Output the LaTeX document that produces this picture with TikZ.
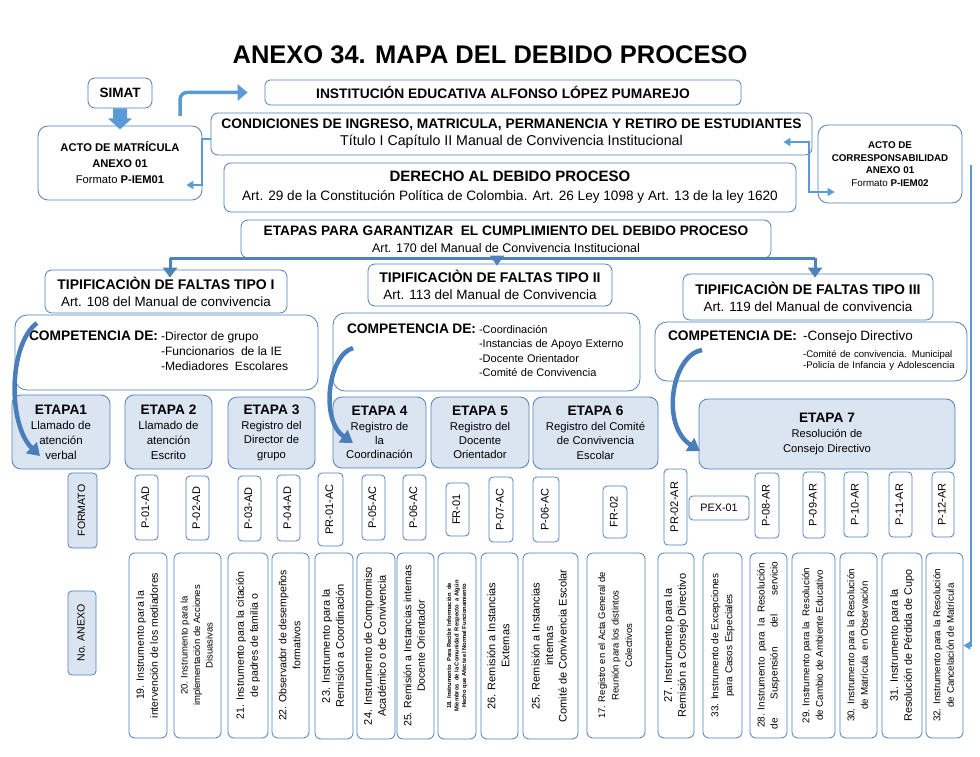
\documentclass[tikz,border=0pt]{standalone}
\usepackage{fontspec}
\usepackage{array}
\setmainfont{Liberation Sans}
\usetikzlibrary{arrows.meta,backgrounds}
\definecolor{bdr}{RGB}{79,129,189}
\definecolor{efill}{RGB}{219,229,241}
\definecolor{linec}{RGB}{108,160,220}
\definecolor{thinc}{RGB}{141,180,226}
\definecolor{bigc}{RGB}{74,126,187}
\definecolor{blockc}{RGB}{91,155,213}
\newcommand\fs[2]{\fontsize{#1}{#2}\selectfont}
\newcommand\rt[3]{\rotatebox{90}{\fs{#1}{#2}\begin{tabular}{@{}c@{}}#3\end{tabular}}}
\newcommand\bx[7]{\node[#6,minimum width={(#4-#2)*1pt},minimum height={(#5-#3)*1pt}] (#1) at ({(#2+#4)/2},{(#3+#5)/2}) {#7};}
\tikzset{
  bxs/.style={draw=bdr,line width=0.8pt,rounded corners=7pt,fill=white,inner sep=0pt,align=center,text=black},
  ebs/.style={bxs,fill=efill,rounded corners=9pt},
  fbs/.style={bxs,rounded corners=4pt},
  els/.style={linec,line width=3pt},
  fls/.style={linec,line width=3pt},
  cls/.style={thinc,line width=1.2pt},
  tls/.style={blockc,line width=2pt},
  dls/.style={bdr,line width=3pt},
  bigs/.style={bigc,line width=4.5pt,-{Triangle[width=15pt,length=12pt]}},
}
\begin{document}
\begin{tikzpicture}[x=1pt,y=-1pt]
\useasboundingbox (0,0) rectangle (980,757);
\fill[white] (0,0) rectangle (980,757);

\node[font=\fs{25.5}{30}\bfseries] (title) at (490,55) {ANEXO 34. MAPA DEL DEBIDO PROCESO};

\bx{simat}{88}{78}{152}{108}{bxs,font=\fs{13.5}{16}\bfseries}{SIMAT}
\bx{acto}{38}{126}{202}{200}{bxs,rounded corners=10pt,font=\fs{11.2}{16}}{\bfseries ACTO DE MATRÍCULA\\\bfseries ANEXO 01\\Formato \textbf{P-IEM01}}
\bx{inst}{265}{80}{741}{105}{bxs,rounded corners=5pt,font=\fs{13.8}{16}\bfseries}{INSTITUCIÓN EDUCATIVA ALFONSO LÓPEZ PUMAREJO}
\bx{cond}{211}{113}{812}{155}{bxs,font=\fs{13.8}{17}}{\bfseries CONDICIONES DE INGRESO, MATRICULA, PERMANENCIA Y RETIRO DE ESTUDIANTES\\\fs{14.2}{17}Título I Capítulo II Manual de Convivencia Institucional}
\bx{corr}{818}{125}{962}{203}{bxs,rounded corners=10pt,font=\fs{9.8}{12.7}}{\bfseries ACTO DE\\\bfseries CORRESPONSABILIDAD\\\bfseries ANEXO 01\\Formato \textbf{P-IEM02}}
\bx{der}{224}{163}{796}{212}{bxs,font=\fs{13.6}{19}}{\fs{15}{19}\bfseries DERECHO AL DEBIDO PROCESO\\Art. 29 de la Constitución Política de Colombia. Art. 26 Ley 1098 y Art. 13 de la ley 1620}
\bx{etapas}{241}{220}{771}{258}{bxs,font=\fs{12.5}{17}}{\fs{13.7}{17}\bfseries ETAPAS PARA GARANTIZAR\ \ EL CUMPLIMIENTO DEL DEBIDO PROCESO\\Art. 170 del Manual de Convivencia Institucional}

\bx{t1}{45}{270}{287}{313}{bxs,font=\fs{13.4}{17}}{\fs{14}{17}\bfseries TIPIFICACIÒN DE FALTAS TIPO I\\Art. 108 del Manual de convivencia}
\bx{t2}{368}{264}{612}{306}{bxs,font=\fs{13.5}{17}}{\fs{14}{17}\bfseries TIPIFICACIÒN DE FALTAS TIPO II\\Art. 113 del Manual de Convivencia}
\bx{t3}{683}{274}{933}{320}{bxs,font=\fs{13.4}{17}}{\fs{14}{17}\bfseries TIPIFICACIÒN DE FALTAS TIPO III\\Art. 119 del Manual de convivencia}

\bx{c1}{15}{315}{318}{390}{bxs,rounded corners=12pt,text width=275pt,align=left}{\fs{12.1}{15}\begin{tabular}{@{}>{\fs{13.8}{15}\bfseries}l@{\hspace{3pt}}l@{}}COMPETENCIA DE: & -Director\ de grupo\\ & -Funcionarios\ \ de la IE\\ & -Mediadores\ \ Escolares\end{tabular}}
\bx{c2}{333}{313}{640}{391}{bxs,rounded corners=12pt,text width=279pt,align=left}{\fs{11}{14.3}\begin{tabular}{@{}>{\fs{13.8}{15}\bfseries}l@{\hspace{3pt}}l@{}}COMPETENCIA DE: & -Coordinación\\ & -Instancias de Apoyo Externo\\ & -Docente Orientador\\ & -Comité de Convivencia\end{tabular}}
\bx{c3}{655}{322}{967}{381}{bxs,rounded corners=12pt,text width=286pt,align=left}{\fs{9.6}{11.5}\begin{tabular}{@{}>{\fs{13.8}{15}\bfseries}l@{\hspace{6pt}}l@{}}COMPETENCIA DE: & \fs{13.5}{15}-Consejo Directivo\\[5pt] & -Comité\ de convivencia. Municipal\\ & -Policía\ de Infancia y Adolescencia\end{tabular}}

% etapas
\bx{e1}{12}{395}{110}{469}{ebs,font=\fs{11.5}{15}}{\fs{13.7}{15}\bfseries ETAPA1\\Llamado de\\atención\\verbal}
\bx{e2}{125}{395}{212}{469}{ebs,font=\fs{11.5}{15}}{\fs{13.7}{15}\bfseries ETAPA 2\\Llamado de\\atención\\Escrito}
\bx{e3}{228}{397}{315}{469}{ebs,font=\fs{11.3}{14.5}}{\fs{13.7}{15}\bfseries ETAPA 3\\Registro del\\Director de\\grupo}
\bx{e4}{333}{397}{426}{468}{ebs,font=\fs{11.3}{14.2}}{\fs{13.7}{15}\bfseries ETAPA 4\\Registro de\\la\\Coordinación}
\bx{e5}{431}{397}{529}{468}{ebs,font=\fs{11.3}{14.2}}{\fs{13.7}{15}\bfseries ETAPA 5\\Registro del\\Docente\\Orientador}
\bx{e6}{533}{397}{658}{469}{ebs,font=\fs{11.3}{14.5}}{\fs{13.7}{15}\bfseries ETAPA 6\\Registro del Comité\\de Convivencia\\Escolar}
\bx{e7}{699}{399}{955}{469}{ebs,font=\fs{11.2}{15}}{\fs{13.7}{15}\bfseries ETAPA 7\\Resolución de\\Consejo Directivo}

% formatos
\bx{fmt}{68}{473}{97}{548}{ebs,rounded corners=4pt}{\rt{10.5}{13}{FORMATO}}
\bx{p01}{135}{475}{158}{540}{fbs}{\rt{11}{13}{P-01-AD}}
\bx{p02}{186}{476}{209}{540}{fbs}{\rt{11}{13}{P-02-AD}}
\bx{p03}{238}{476}{261}{541}{fbs}{\rt{11}{13}{P-03-AD}}
\bx{p04}{277}{475}{300}{541}{fbs}{\rt{11}{13}{P-04-AD}}
\bx{pr01}{318}{473}{343}{546}{fbs}{\rt{11}{13}{PR-01-AC}}
\bx{p05}{362}{475}{385}{540}{fbs}{\rt{11}{13}{P-05-AC}}
\bx{p06}{403}{475}{426}{540}{fbs}{\rt{11}{13}{P-06-AC}}
\bx{fr01}{446}{483}{469}{536}{fbs}{\rt{11}{13}{FR-01}}
\bx{p07}{489}{477}{513}{542}{fbs}{\rt{11}{13}{P-07-AC}}
\bx{p06b}{533}{477}{559}{542}{fbs}{\rt{11}{13}{P-06-AC}}
\bx{fr02}{603}{486}{627}{538}{fbs}{\rt{11}{13}{FR-02}}
\bx{pr02}{664}{469}{687}{545}{fbs}{\rt{11}{13}{PR-02-AR}}
\bx{pex}{689}{496}{749}{520}{fbs,font=\fs{10.8}{13}}{PEX-01}
\bx{p08}{755}{473}{779}{538}{fbs}{\rt{11}{13}{P-08-AR}}
\bx{p09}{803}{472}{825}{538}{fbs}{\rt{11}{13}{P-09-AR}}
\bx{p10}{844}{472}{868}{537}{fbs}{\rt{11}{13}{P-10-AR}}
\bx{p11}{889}{472}{912}{537}{fbs}{\rt{11}{13}{P-11-AR}}
\bx{p12}{932}{472}{954}{537}{fbs}{\rt{11}{13}{P-12-AR}}

% anexos
\bx{nanx}{68}{591}{96}{675}{ebs,rounded corners=4pt}{\rt{10.5}{13}{No. ANEXO}}
\bx{a19}{129}{553}{167}{738}{fbs,rounded corners=6pt}{\rt{10.5}{14}{19. Instrumento para la\\intervención de los mediadores}}
\bx{a20}{174}{553}{221}{738}{fbs,rounded corners=6pt}{\rt{9.5}{12.5}{20. Instrumento para la\\implementación de Acciones\\Disuasivas}}
\bx{a21}{228}{553}{268}{738}{fbs,rounded corners=6pt}{\rt{10.5}{14}{21. Instrumento para la citación\\de padres de familia o}}
\bx{a22}{272}{553}{309}{738}{fbs,rounded corners=6pt}{\rt{10.5}{14}{22. Observador de desempeños\\formativos}}
\bx{a23}{315}{553}{353}{739}{fbs,rounded corners=6pt}{\rt{11}{14}{23. Instrumento para la\\Remisión a Coordinación}}
\bx{a24}{357}{553}{395}{739}{fbs,rounded corners=6pt}{\rt{11}{14}{24. Instrumento de Compromiso\\Académico o de Convivencia}}
\bx{a25}{397}{553}{434}{739}{fbs,rounded corners=6pt}{\rt{10.5}{13.5}{25. Remisión a Instancias internas\\Docente Orientador}}
\bx{a18}{438}{553}{476}{739}{fbs,rounded corners=6pt}{\bfseries\rt{5.8}{7.5}{18. Instrumento\ \ Para Recibir Información\ \ de\\Miembros\ \ de la Comunidad\ \ Respecto\ \ a Algún\\Hecho que Afecte el Normal Funcionamiento}}
\bx{a26}{481}{553}{518}{739}{fbs,rounded corners=6pt}{\rt{11}{14}{26. Remisión a Instancias\\Externas}}
\bx{a25b}{523}{553}{578}{739}{fbs,rounded corners=6pt}{\rt{11}{13.5}{25. Remisión a Instancias\\internas\\Comité de Convivencia Escolar}}
\bx{a17}{587}{553}{645}{738}{fbs,rounded corners=6pt}{\rt{9.5}{13.5}{17. Registro en el Acta General de\\Reunión para los distintos\\Colectivos}}
\bx{a27}{658}{553}{694}{738}{fbs,rounded corners=6pt}{\rt{11}{14}{27. Instrumento para la\\Remisión a Consejo Directivo}}
\bx{a33}{703}{553}{742}{738}{fbs,rounded corners=6pt}{\rt{10}{14}{33. Instrumento de Excepciones\\para Casos Especiales}}
\bx{a28}{750}{553}{787}{738}{fbs,rounded corners=6pt}{\rt{10}{13}{28. Instrumento\ \ para\ \ la\ \ Resolución\\\hbox to 168pt{de\hfill Suspensión\hfill del\hfill servicio}}}
\bx{a29}{792}{553}{835}{738}{fbs,rounded corners=6pt}{\rt{9.8}{13.5}{29. Instrumento para la\ \ Resolución\\de Cambio de Ambiente Educativo}}
\bx{a30}{840}{553}{877}{738}{fbs,rounded corners=6pt}{\rt{9.8}{13.5}{30. Instrumento para la Resolución\\de Matrícula\ \ en Observación}}
\bx{a31}{882}{553}{922}{738}{fbs,rounded corners=6pt}{\rt{10.8}{14}{31. Instrumento para la\\Resolución de Pérdida de Cupo}}
\bx{a32}{926}{553}{963}{738}{fbs,rounded corners=6pt}{\rt{9.8}{13.5}{32. Instrumento para la Resolución\\de Cancelación de Matrícula}}

\begin{pgfonlayer}{background}
  \foreach \a/\b in {e1/e2,e2/e3,e3/e4,e4/e5,e5/e6}
    \draw[els] (\a.east) -- (\a.east -| \b.west);
  \draw[els,-{Triangle[width=9pt,length=8pt]}] (e6.east) -- (e6.east -| e7.west);
  \draw[fls,-{Triangle[width=9pt,length=8pt]}] (fmt.east |- pex.west) -- (p12.west |- pex.west);
  \foreach \f/\e in {p01/e2,p02/e2,p03/e3,p04/e3,p05/e4,p06/e4,fr01/e5,p07/e5,p06b/e6,fr02/e6,p08/e7,p09/e7,p10/e7,p11/e7,p12/e7}
    \draw[cls] (\f.north) -- (\f.north |- \e.south);
  \foreach \f/\x in {p01/a19,p02/a20,p03/a21,p04/a22,p05/a24,p06/a25,fr01/a18,p07/a26,p06b/a25b,fr02/a17,p08/a28,p09/a29,p10/a30,p11/a31,p12/a32}
    \draw[cls] (\f.south) -- (\f.south |- \x.north);
\end{pgfonlayer}

% block arrow SIMAT -> acto
\fill[blockc] ([xshift=-7pt]simat.south) -- ++(14,0) -- ++(0,10) -- ++(5,0) -- ++(-12,11) -- ++(-12,-11) -- ++(5,0) -- cycle;

% top connectors
\coordinate (s1) at (180,116);
\draw[tls,line width=3.5pt,rounded corners=7pt,-{Triangle[width=16pt,length=10pt]}] (s1) |- ([xshift=-17pt]inst.west);
\draw[tls,-{Triangle[width=8pt,length=7pt]}] (cond.west |- 0,139) -- (acto.east |- 0,139) -- ([yshift=-22pt]acto.east) -- ([xshift=-16pt,yshift=-22pt]acto.east);
\draw[tls,{Triangle[width=8pt,length=7pt]}-{Triangle[width=8pt,length=7pt]}] ([xshift=-29pt]cond.east |- 0,142) -- ([xshift=-3pt]cond.east |- 0,142) |- ([xshift=17pt]corr.west |- 0,192);
\coordinate (rv) at (971,165);
\draw[tls,-{Triangle[width=8pt,length=7pt]}] (rv) |- (a32.east);

% distribution
\draw[dls] ([xshift=4pt]t1.north |- etapas.south) -- ([xshift=7pt]t3.north |- etapas.south);
\draw[dls,-{Triangle[width=14pt,length=10pt]}] ([xshift=4pt]t1.north |- etapas.south) -- ([xshift=4pt,yshift=-8pt]t1.north);
\draw[dls,-{Triangle[width=14pt,length=10pt]}] ([xshift=7pt]t2.north |- etapas.south) -- ([xshift=7pt,yshift=-2pt]t2.north);
\draw[dls,-{Triangle[width=14pt,length=10pt]}] ([xshift=7pt]t3.north |- etapas.south) -- ([xshift=7pt,yshift=-4pt]t3.north);

% big curved arrows
\coordinate (g1) at (37,323);
\coordinate (g2) at (353,348);
\coordinate (g3) at (702,350);
\draw[bigs] (g1) .. controls (8,345) and (8,425) .. (40,456);
\draw[bigs] (g2) .. controls (328,355) and (320,420) .. (353,443);
\draw[bigs] (g3) .. controls (672,355) and (660,425) .. (700,451);
\end{tikzpicture}
\end{document}
